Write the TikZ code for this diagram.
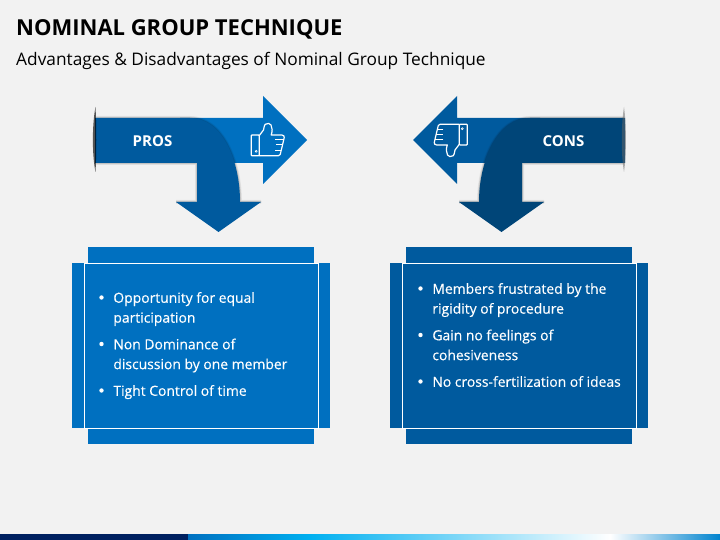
\documentclass[tikz,border=0pt]{standalone}
\usepackage{fontspec}
\setmainfont{Open Sans}
\usetikzlibrary{positioning}
\definecolor{pagebg}{HTML}{F2F2F2}
\definecolor{bluelight}{HTML}{0070C0}
\definecolor{bluemid}{HTML}{005A9E}
\definecolor{bluedark}{HTML}{004578}
\definecolor{navybar}{HTML}{002060}
\definecolor{skybar}{HTML}{00B0F0}
\newfontfamily\bodyfont[FakeBold=0.25]{Open Sans}
\tikzset{
  titletext/.style={anchor=west, inner sep=0pt, font=\fontsize{22}{26}\selectfont\bfseries, text=black},
  subtext/.style={anchor=west, inner sep=0pt, font=\fontsize{17.3}{20}\selectfont, text=black},
  arrowlabel/.style={inner sep=0pt, font=\fontsize{15}{18}\selectfont\bfseries, text=white},
  bodytext/.style={anchor=west, inner sep=0pt, text=white, text height=11.5pt, text depth=1pt, font=\bodyfont\fontsize{13.9}{19.5}\selectfont},
  bullet/.style={inner sep=0pt, circle, fill=white, minimum size=4.4pt},
  strip/.style={fill=#1, draw=none},
  mainbox/.style={fill=#1, draw=white, line width=0.8pt},
  thumb/.pic={
    \draw[white, line width=1.2pt, rounded corners=0.8pt]
      (-16.3,-5) rectangle (-8.3,15.7);
    \draw[white, line width=1.2pt, line join=round]
      (-8.3,-4.3) -- (-4,-10) .. controls (-3,-13) and (-3.5,-15) .. (-2.3,-15.7)
      .. controls (0,-17) and (2.5,-17) .. (3.5,-15) .. controls (5,-12) and (5,-9) .. (3.7,-5)
      -- (14.3,-5) .. controls (16.5,-5) and (17,-3.5) .. (16.7,-2.3)
      -- (15,5) -- (12.7,14.5) .. controls (12.3,15.7) and (12,15.7) .. (11,15.7) -- (-8.3,15.7);
    \draw[white, line width=1pt] (7.7,0) -- (16,0) (8.3,5) -- (15,5) (7.7,10.7) -- (13.5,10.7);
    \draw[white, line width=0.6pt] (-11.3,11.3) circle (1);
    \draw[white, opacity=.5, line width=1.2pt] (-8.3,-4.3) -- (-8.3,15.7);
  }
}
\newcommand{\softedge}[1]{%
  \foreach \w/\o in {4/.05, 2.6/.08, 1.2/.12}
    \draw[black, line width=\w pt, opacity=\o, line join=round] #1;
}
\begin{document}
\begin{tikzpicture}[x=1pt, y=-1pt]
  \fill[pagebg] (0,0) rectangle (720,540);
  \useasboundingbox (0,0) rectangle (720,540);

  % title
  \node[titletext] (title) at (16,29.5) {NOMINAL GROUP TECHNIQUE};
  \node[subtext] (subtitle) at (16,60.5) {Advantages \& Disadvantages of Nominal Group Technique};

  % pros arrow
  \fill[bluelight] (180,118) -- (263,118) -- (263,96) -- (307,140) -- (263,184) -- (263,163) -- (180,163) -- cycle;
  \softedge{(96,118) -- (190,118) .. controls (222,118) and (240,160) .. (240,202) -- (261,202) (218,202) -- (176,202) (197,202) -- (197,163) -- (96,163)}
  \fill[bluemid] (95,118) -- (190,118) .. controls (222,118) and (240,160) .. (240,202) -- (261,202) -- (218.5,232) -- (176,202) -- (197,202) -- (197,163) -- (95,163) -- cycle;
  \fill[black, opacity=.65] (95.5,107) .. controls (92,125) and (92,155) .. (95.5,172) .. controls (96.5,155) and (96.5,125) .. (95.5,107) -- cycle;
  \node[arrowlabel] (pros) at (152.5,141) {PROS};
  \pic at (267.5,140) {thumb};

  % cons arrow
  \fill[bluemid] (540,118) -- (457,118) -- (457,96) -- (413,140) -- (457,184) -- (457,163) -- (540,163) -- cycle;
  \softedge{(624,118) -- (530,118) .. controls (498,118) and (479,160) .. (479,202) -- (459,202) (501,202) -- (544,202) (522,202) -- (522,163) -- (624,163)}
  \fill[bluedark] (625,118) -- (530,118) .. controls (498,118) and (479,160) .. (479,202) -- (459,202) -- (501.5,232) -- (544,202) -- (522,202) -- (522,163) -- (625,163) -- cycle;
  \fill[black!60, opacity=.5] (624,107) .. controls (621,125) and (621,155) .. (624,172) .. controls (626.5,155) and (626.5,125) .. (624,107) -- cycle;
  \node[arrowlabel] (cons) at (563.5,141) {CONS};
  \pic[rotate=180] at (451,140) {thumb};

  % pros box
  \fill[strip=bluelight] (88,247) rectangle (314,263);
  \fill[strip=bluelight] (88,429) rectangle (314,444);
  \fill[strip=bluelight] (72,263) rectangle (84,428);
  \fill[strip=bluelight] (318,263) rectangle (330,428);
  \draw[mainbox=bluelight] (84,263.5) rectangle (318,428.5);
  \node[bullet] (pa) at (101.5,297.5) {};
  \node[bodytext, right=9.3pt of pa] (prosa) {Opportunity for equal};
  \node[bodytext, below=7pt of prosa.south west, anchor=north west] (prosb) {participation};
  \node[bullet] (pb) at (101.5,344) {};
  \node[bodytext, right=9.3pt of pb] (prosc) {Non Dominance of};
  \node[bodytext, below=7pt of prosc.south west, anchor=north west] (prosd) {discussion by one member};
  \node[bullet] (pc) at (101.5,390.5) {};
  \node[bodytext, right=9.3pt of pc] (prose) {Tight Control of time};

  % cons box
  \fill[strip=bluemid] (406,247) rectangle (632,263);
  \fill[strip=bluemid] (406,429) rectangle (632,444);
  \fill[strip=bluemid] (390,263) rectangle (402,428);
  \fill[strip=bluemid] (636,263) rectangle (648,428);
  \draw[mainbox=bluemid] (402,263.5) rectangle (636,428.5);
  \node[bullet] (ca) at (420.5,288.5) {};
  \node[bodytext, right=9.3pt of ca] (consa) {Members frustrated by the};
  \node[bodytext, below=7pt of consa.south west, anchor=north west] (consb) {rigidity of procedure};
  \node[bullet] (cb) at (420.5,335) {};
  \node[bodytext, right=9.3pt of cb] (consc) {Gain no feelings of};
  \node[bodytext, below=7pt of consc.south west, anchor=north west] (consd) {cohesiveness};
  \node[bullet] (cc) at (420.5,381.5) {};
  \node[bodytext, right=9.3pt of cc] (conse) {No cross-fertilization of ideas};

  % bottom bar
  \fill[navybar] (0,534) rectangle (188,540);
  \fill[left color=bluelight, right color=skybar] (188,534) rectangle (310,540);
  \fill[left color=skybar, right color=white] (310,534) rectangle (610,540);
  \fill[left color=white, right color=bluelight!70!skybar] (610,534) rectangle (720,540);
\end{tikzpicture}
\end{document}
